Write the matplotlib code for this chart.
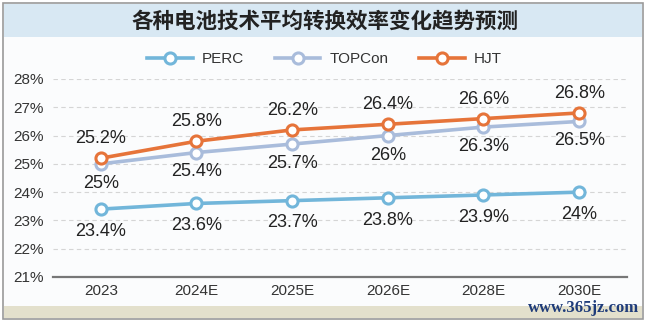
import numpy as np
import matplotlib.pyplot as plt
from matplotlib.patches import Rectangle

plt.rcParams['font.family'] = ['Liberation Sans', 'Noto Sans CJK SC']

# dati
anni = ['2023', '2024E', '2025E', '2026E', '2028E', '2030E']
perc = [23.4, 23.6, 23.7, 23.8, 23.9, 24.0]
topcon = [25.0, 25.4, 25.7, 26.0, 26.3, 26.5]
hjt = [25.2, 25.8, 26.2, 26.4, 26.6, 26.8]
yticks = [21, 22, 23, 24, 25, 26, 27, 28]

c_perc = '#72b6da'
c_top = '#a9bcdb'
c_hjt = '#e6743a'

W, H = 649, 324
fig = plt.figure(figsize=(W / 100, H / 100), dpi=100)
fig.patch.set_facecolor('white')

def px(x, y, w, h):
    # rettangolo in pixel (origine in alto a sinistra) -> coordinate figura
    return (x / W, 1 - (y + h) / H), w / W, h / H

# cornice, fascia del titolo e striscia in basso
xy, w, h = px(3, 3, 640, 316)
fig.add_artist(Rectangle(xy, w, h, transform=fig.transFigure, facecolor='#fbfcfd',
                         edgecolor='#9a9a9a', lw=1.2, zorder=0))
xy, w, h = px(4, 4, 638, 33)
fig.add_artist(Rectangle(xy, w, h, transform=fig.transFigure, facecolor='#d8e8f3',
                         edgecolor='none', zorder=0))
xy, w, h = px(4, 306, 638, 12)
fig.add_artist(Rectangle(xy, w, h, transform=fig.transFigure, facecolor='#e3e0cc',
                         edgecolor='none', zorder=0))

fig.text(0.5, 1 - 21 / H, '各种电池技术平均转换效率变化趋势预测', ha='center', va='center',
         fontsize=15.5, fontweight='bold', color='#222222', family='Noto Sans CJK SC')

ax = fig.add_axes([53 / W, 1 - 277 / H, (627 - 53) / W, (277 - 79) / H])
ax.set_facecolor('none')
x = np.arange(len(anni))

ln_kw = dict(lw=2.6, marker='o', markersize=8, markerfacecolor='white', markeredgewidth=2.2)
ax.plot(x, perc, color=c_perc, label='PERC', zorder=3, **ln_kw)
ax.plot(x, topcon, color=c_top, label='TOPCon', zorder=3, **ln_kw)
ax.plot(x, hjt, color=c_hjt, label='HJT', zorder=4, **ln_kw)

lab_kw = dict(textcoords='offset points', ha='center', va='center', fontsize=13, color='#222222')
for i in x:
    ax.annotate(f'{hjt[i]:g}%', (i, hjt[i]), xytext=(0, 14), **lab_kw)
    ax.annotate(f'{topcon[i]:g}%', (i, topcon[i]), xytext=(0, -14), **lab_kw)
    ax.annotate(f'{perc[i]:g}%', (i, perc[i]), xytext=(0, -16), **lab_kw)

ax.set_xlim(-0.5, len(anni) - 0.5)
ax.set_ylim(21, 28)
ax.set_yticks(yticks)
ax.set_yticklabels([f'{v}%' for v in yticks])
ax.set_xticks(x)
ax.set_xticklabels(anni)
ax.tick_params(length=0, labelsize=11, colors='#333333', pad=5)
ax.tick_params(axis='y', pad=7)
for v in yticks[1:]:
    ax.axhline(v, color='#d5d5d5', lw=0.8, ls=(0, (4, 3)), zorder=1)
for s in ['top', 'right', 'left']:
    ax.spines[s].set_visible(False)
ax.spines['bottom'].set_color('#777777')
ax.spines['bottom'].set_linewidth(1.6)

fig.legend(loc='center', bbox_to_anchor=(0.5, 1 - 59 / H), ncol=3, frameon=False,
           fontsize=11, handlelength=3.0, columnspacing=2.0, handletextpad=0.6,
           labelcolor='#333333')

fig.text(1 - 10 / W, 1 - 308 / H, 'www.365jz.com', ha='right', va='center',
         fontsize=12, family='Liberation Serif', fontweight='bold', color='#1f3c7a')

fig.savefig('out.png', dpi=100)
